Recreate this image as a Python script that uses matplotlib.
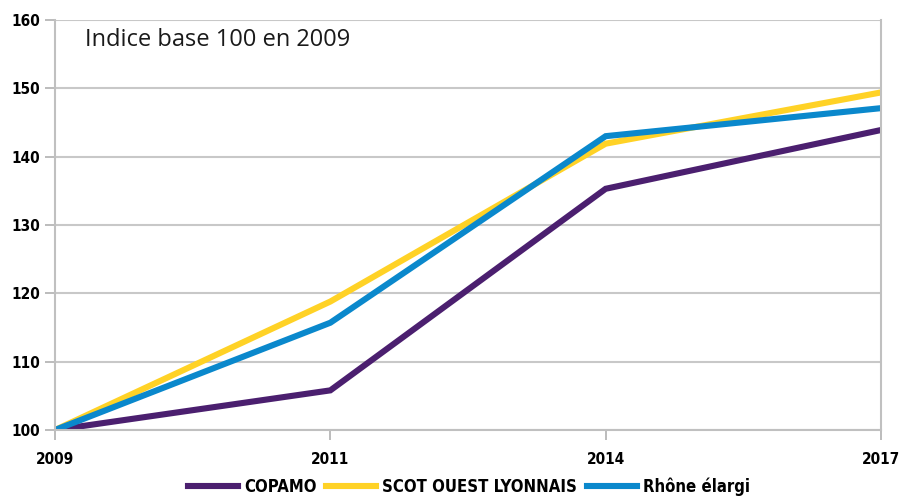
import matplotlib
matplotlib.use("agg")
import matplotlib.pyplot as plt
from matplotlib import font_manager

years = ["2009", "2011", "2014", "2017"]
copamo = [100, 105.8, 135.3, 143.9]
scot = [100, 118.8, 141.9, 149.4]
rhone = [100, 115.7, 143.0, 147.1]
yticks = [100, 110, 120, 130, 140, 150, 160]

narrow = dict(family="DejaVu Sans", stretch="condensed", weight="bold", size=11)

fig = plt.figure(figsize=(9.02, 5.01), dpi=100)
ax = fig.add_axes([55 / 902, 71 / 501, 826 / 902, 410 / 501])

x = range(len(years))
ax.plot(x, copamo, color="#4b1f6f", lw=4.4, label="COPAMO", solid_joinstyle="miter")
ax.plot(x, scot, color="#ffd226", lw=4.4, label="SCOT OUEST LYONNAIS", solid_joinstyle="miter")
ax.plot(x, rhone, color="#0a88cc", lw=4.4, label="Rhône élargi", solid_joinstyle="miter")

ax.set_xlim(0, 3)
ax.set_ylim(100, 160)
ax.set_xticks(list(x))
ax.set_xticklabels(years, fontproperties=font_manager.FontProperties(**narrow))
ax.set_yticks(yticks)
ax.set_yticklabels([str(v) for v in yticks], fontproperties=font_manager.FontProperties(**narrow))
ax.tick_params(axis="both", color="#b0b0b0", length=7, width=1.2, pad=4)
ax.tick_params(axis="x", pad=9)
ax.grid(axis="y", color="#c8c8c8", lw=1.5)
ax.set_axisbelow(True)
for s in ax.spines.values():
    s.set_color("#c0c0c0")
    s.set_linewidth(1.5)
ax.spines["top"].set_visible(False)

ax.text(0.036, 0.98, "Indice base 100 en 2009", transform=ax.transAxes,
        fontsize=17, fontfamily="Open Sans", va="top", ha="left", color="#1a1a1a")

leg_font = dict(narrow, size=12)
leg = fig.legend(loc="center", bbox_to_anchor=(0.52, 0.028), ncol=3, frameon=False,
                 prop=font_manager.FontProperties(**leg_font),
                 handlelength=3.0, handletextpad=0.35, columnspacing=0.6,
                 borderpad=0.1)

fig.savefig("out.png", dpi=100)
